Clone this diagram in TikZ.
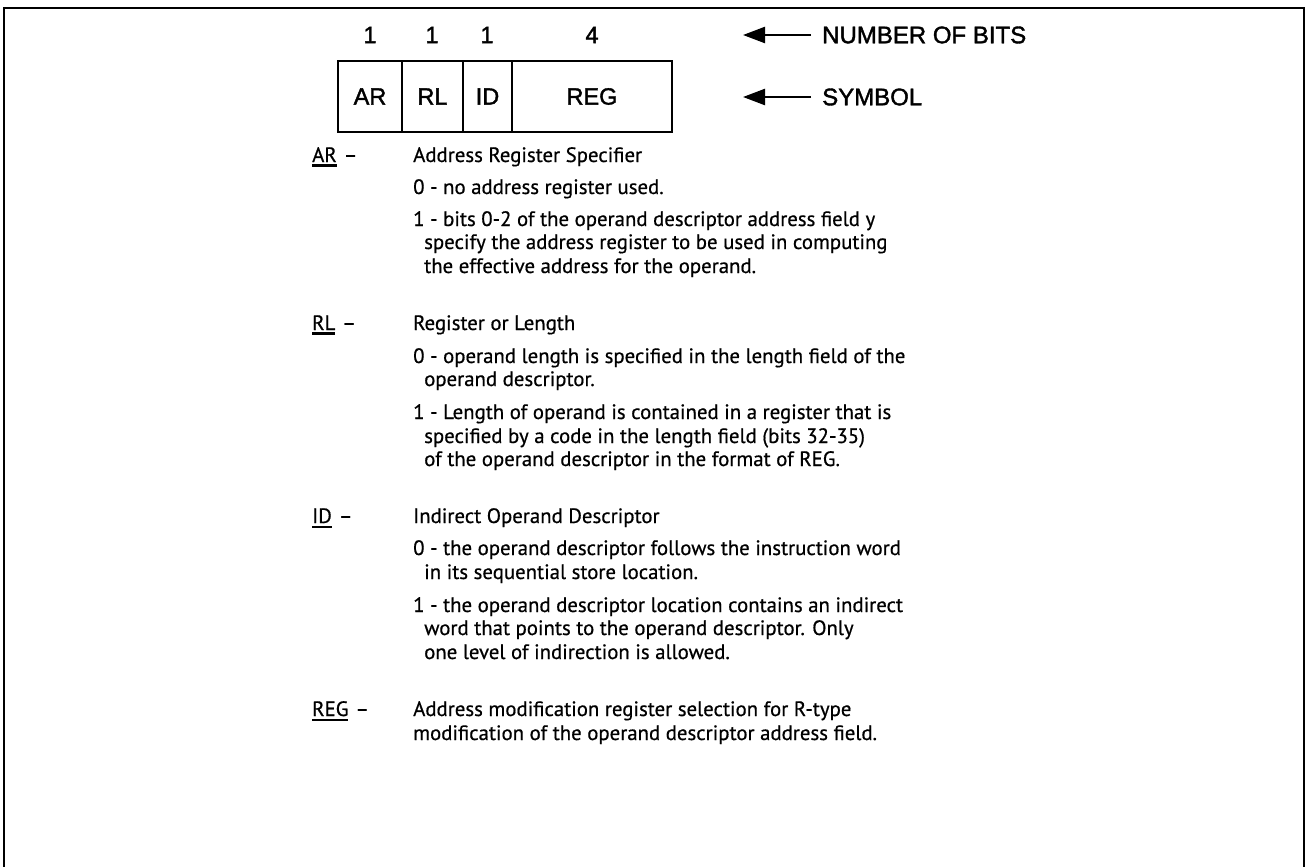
\documentclass[tikz,border=0pt]{standalone}
\usepackage{fontspec}
\setmainfont{PT Sans}[FakeBold=0.6]
\newfontfamily\helv{Liberation Sans}[FakeBold=1.6]
\usetikzlibrary{arrows.meta}

% thick underline under a field mnemonic, baseline kept on the text
\newcommand\fieldmark[1]{\leavevmode\vtop{\hbox{#1}\kern2.4pt\hrule height 2.4pt}}

\begin{document}
\begin{tikzpicture}[x=1pt,y=-1pt,
  frame/.style={line width=2.4pt},
  cell/.style={draw,line width=2.4pt,minimum height=71pt,inner sep=0pt,
               font=\helv\fontsize{23.5}{27}\selectfont},
  bits/.style={font=\helv\fontsize{23.5}{27}\selectfont},
  legend/.style={anchor=west,inner sep=0pt,font=\helv\fontsize{24}{28}\selectfont},
  bigarrow/.style={line width=2.4pt,-{Triangle[length=22pt,width=16pt]}},
  fieldlabel/.style={anchor=base west,inner sep=0pt,font=\fontsize{20.8}{24}\selectfont},
  body/.style={anchor=base west,inner sep=0pt,font=\fontsize{20.8}{24}\selectfont}]

\useasboundingbox (0,0) rectangle (1309,867);

% open frame: top edge and both sides
\draw[frame] (4,867) -- (4,8) -- (1304,8) -- (1304,867);

% field widths
\node[bits] (n1) at (370,35) {1};
\node[bits] (n2) at (432,35) {1};
\node[bits] (n3) at (487,35) {1};
\node[bits] (n4) at (592,35) {4};

% instruction field layout
\node[cell,minimum width=64pt] (ar)  at (370,96.5) {AR};
\node[cell,minimum width=61pt] (rl)  at (432.5,96.5) {RL};
\node[cell,minimum width=49pt] (id)  at (487.5,96.5) {ID};
\node[cell,minimum width=160pt] (reg) at (592,96.5) {REG};

% legend with pointers
\node[legend] (nbits) at (822,35) {NUMBER OF BITS};
\node[legend] (sym)   at (822,97) {SYMBOL};
\coordinate (nbitstip) at (743,35);
\coordinate (symtip)   at (743,97);
\draw[bigarrow,shorten <=11pt] (nbits.west) -- (nbitstip);
\draw[bigarrow,shorten <=11pt] (sym.west) -- (symtip);

% AR
\node[fieldlabel] (lar) at (312,162) {\fieldmark{AR}\,\,--};
\node[body] (ar0) at (413,162) {Address Register Specifier};
\node[body] (ar1) at (413,194) {0 - no address register used.};
\node[body] (ar2) at (413,226) {1 - bits 0-2 of the operand descriptor address field y};
\node[body] (ar3) at (424,249) {specify the address register to be used in computing};
\node[body] (ar4) at (424,273) {the effective address for the operand.};

% RL
\node[fieldlabel] (lrl) at (312,330) {\fieldmark{RL}\,\,--};
\node[body] (rl0) at (413,330) {Register or Length};
\node[body] (rl1) at (413,363) {0 - operand length is specified in the length field of the};
\node[body] (rl2) at (424,386) {operand descriptor.};
\node[body] (rl3) at (413,419) {1 - Length of operand is contained in a register that is};
\node[body] (rl4) at (424,443) {specified by a code in the length field (bits 32-35)};
\node[body] (rl5) at (424,466) {of the operand descriptor in the format of REG.};

% ID
\node[fieldlabel] (lid) at (312,523) {\fieldmark{ID}\,\,--};
\node[body] (id0) at (413,523) {Indirect Operand Descriptor};
\node[body] (id1) at (413,555) {0 - the operand descriptor follows the instruction word};
\node[body] (id2) at (424,579) {in its sequential store location.};
\node[body] (id3) at (413,612) {1 - the operand descriptor location contains an indirect};
\node[body] (id4) at (424,635) {word that points to the operand descriptor. Only};
\node[body] (id5) at (424,659) {one level of indirection is allowed.};

% REG
\node[fieldlabel] (lreg) at (312,716) {\fieldmark{REG}\,\,--};
\node[body] (reg0) at (413,716) {Address modification register selection for R-type};
\node[body] (reg1) at (413,740) {modification of the operand descriptor address field.};

\end{tikzpicture}
\end{document}
